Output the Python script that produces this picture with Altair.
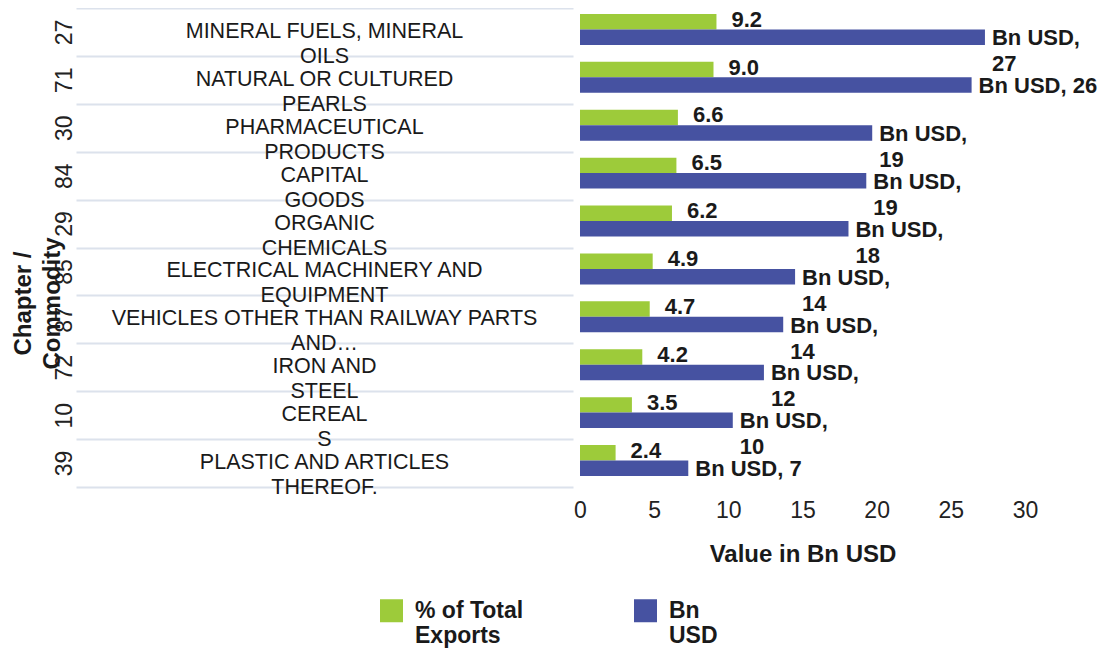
import altair as alt
import pandas as pd

chapters = ["27", "71", "30", "84", "29", "85", "87", "72", "10", "39"]
commodities = [
    "MINERAL FUELS, MINERAL\nOILS",
    "NATURAL OR CULTURED\nPEARLS",
    "PHARMACEUTICAL\nPRODUCTS",
    "CAPITAL\nGOODS",
    "ORGANIC\nCHEMICALS",
    "ELECTRICAL MACHINERY AND\nEQUIPMENT",
    "VEHICLES OTHER THAN RAILWAY PARTS\nAND…",
    "IRON AND\nSTEEL",
    "CEREAL\nS",
    "PLASTIC AND ARTICLES\nTHEREOF.",
]
pct_total = [9.2, 9.0, 6.6, 6.5, 6.2, 4.9, 4.7, 4.2, 3.5, 2.4]
bn_usd = [27.3, 26.4, 19.7, 19.3, 18.1, 14.5, 13.7, 12.4, 10.3, 7.3]
pct_labels = ["9.2", "9.0", "6.6", "6.5", "6.2", "4.9", "4.7", "4.2", "3.5", "2.4"]
bn_labels = ["Bn USD,\n27", "Bn USD, 26", "Bn USD,\n19", "Bn USD,\n19", "Bn USD,\n18",
             "Bn USD,\n14", "Bn USD,\n14", "Bn USD,\n12", "Bn USD,\n10", "Bn USD, 7"]
series = ["% of Total Exports", "Bn USD"]
x_ticks = [0, 5, 10, 15, 20, 25, 30]

GREEN = "#9DCB3A"
BLUE = "#4652A1"
FONT = "Liberation Sans"
INK = "#1a1a1a"

names_df = pd.DataFrame({"chapter": chapters, "commodity": commodities})
rows = []
for i, c in enumerate(chapters):
    rows.append({"chapter": c, "series": series[0], "value": pct_total[i], "label": pct_labels[i]})
    rows.append({"chapter": c, "series": series[1], "value": bn_usd[i], "label": bn_labels[i]})
bars_df = pd.DataFrame(rows)

band = alt.Scale(paddingInner=0, paddingOuter=0)

left = alt.Chart(names_df).mark_text(
    align="center", baseline="alphabetic", dy=6, fontSize=21.5, lineBreak="\n",
    lineHeight=25, color=INK, font=FONT
).encode(
    y=alt.Y("chapter:N", sort=chapters, scale=band,
            axis=alt.Axis(title=["Chapter /", "Commodity"], labelAngle=270, labelFontSize=23,
                          labelColor="#222222", ticks=False, domain=False, grid=True,
                          tickBand="extent", gridColor="#DCE2EC", gridWidth=2,
                          labelPadding=0, titleFontSize=24, titleFontWeight="bold",
                          titleColor=INK, titlePadding=-11, titleLineHeight=29,
                          titleY=295)),
    text="commodity:N",
).properties(width=497, height=479)

y_r = alt.Y("chapter:N", sort=chapters, scale=band, axis=None)
yoff = alt.YOffset("series:N", sort=series,
                   scale=alt.Scale(paddingInner=0, paddingOuter=0.548, align=0.35))
x_r = alt.X("value:Q", scale=alt.Scale(domain=[0, 30], nice=False),
            axis=alt.Axis(values=x_ticks, title="Value in Bn USD", grid=False, ticks=False,
                          domain=False, labelFlush=False, labelFontSize=23,
                          labelColor="#222222", labelPadding=12,
                          titleFontSize=24, titleFontWeight="bold", titleColor=INK,
                          titlePadding=20))

bars = alt.Chart(bars_df).mark_bar().encode(
    y=y_r, yOffset=yoff, x=x_r,
    color=alt.Color("series:N", sort=series,
                    scale=alt.Scale(domain=series, range=[GREEN, BLUE]),
                    legend=alt.Legend(title=None, orient="none", legendX=304, legendY=591,
                                      direction="horizontal", symbolType="square",
                                      symbolSize=529, symbolStrokeWidth=0,
                                      labelFontSize=23, labelFontWeight="bold",
                                      labelColor=INK, labelOffset=12,
                                      columnPadding=110,
                                      labelBaseline="middle",
                                      labelExpr="datum.label == 'Bn USD' ? ['Bn', 'USD'] : ['% of Total', 'Exports']")),
)

pct_text = alt.Chart(bars_df).transform_filter(
    alt.datum.series == series[0]
).mark_text(align="left", baseline="alphabetic", dx=15, dy=5, fontSize=22,
            fontWeight="bold", color=INK, font=FONT).encode(
    y=y_r, yOffset=yoff, x=x_r, text="label:N")

bn_text = alt.Chart(bars_df).transform_filter(
    alt.datum.series == series[1]
).mark_text(align="left", baseline="alphabetic", dx=7, dy=8, fontSize=22,
            fontWeight="bold", color=INK, font=FONT, lineBreak="\n",
            lineHeight=26).encode(
    y=y_r, yOffset=yoff, x=x_r, text="label:N")

right = alt.layer(bars, pct_text, bn_text).properties(width=445, height=479)

chart = alt.hconcat(left, right, spacing=0).resolve_scale(y="independent").properties(
    padding={"left": 3, "top": 0, "right": 5, "bottom": 5}
).configure(font=FONT).configure_view(stroke=None)

chart.save("out.html", embed_options={"renderer": "svg", "actions": False})
